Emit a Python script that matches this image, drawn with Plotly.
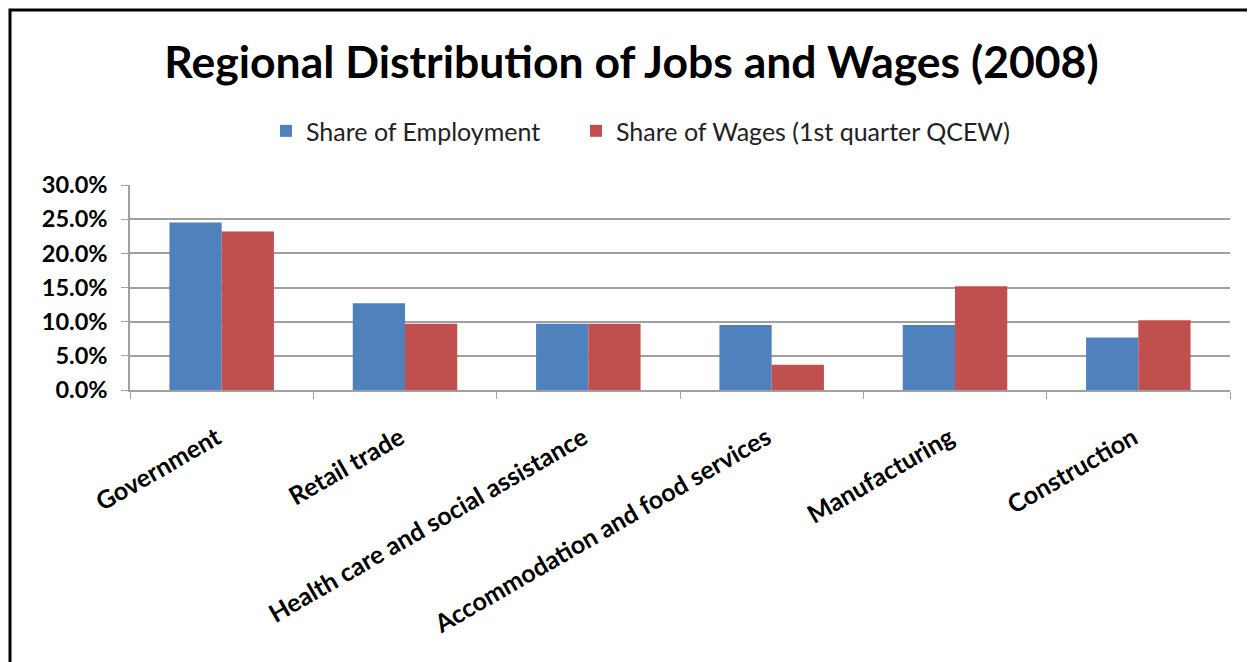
import plotly.graph_objects as go

categories = ["Government", "Retail trade", "Health care and social assistance",
              "Accommodation and food services", "Manufacturing", "Construction"]
share_employment = [0.245, 0.127, 0.097, 0.095, 0.095, 0.077]
share_wages = [0.232, 0.097, 0.097, 0.037, 0.152, 0.102]
series_names = ["Share of Employment", "Share of Wages (1st quarter QCEW)"]
title_text = "Regional Distribution of Jobs and Wages (2008)"

FONT = "Lato"
W, H = 1247, 654  # page body has an 8px margin

fig = go.Figure()
fig.add_trace(go.Bar(x=categories, y=share_employment, name=series_names[0],
                     marker=dict(color="#4F81BD", line=dict(width=0)), legend="legend"))
fig.add_trace(go.Bar(x=categories, y=share_wages, name=series_names[1],
                     marker=dict(color="#C0504D", line=dict(width=0)), legend="legend2"))

legend_common = dict(orientation="h", xanchor="left", y=1.263, yanchor="middle",
                     font=dict(family=FONT, size=25, color="#222"),
                     itemsizing="constant", itemwidth=30, bgcolor="rgba(0,0,0,0)")

fig.update_layout(
    width=W, height=H,
    margin=dict(l=122, r=25, t=177, b=272),
    paper_bgcolor="white", plot_bgcolor="white",
    barmode="group", bargap=0.43, bargroupgap=0,
    title=dict(text="<b>" + title_text + "</b>", x=0.5, xanchor="center",
               y=1 - 54 / H, yanchor="middle",
               font=dict(family=FONT, size=44.5, color="black")),
    legend=dict(x=(258 - 122) / 1100, **legend_common),
    legend2=dict(x=(568 - 122) / 1100, **legend_common),
    showlegend=True,
)
fig.update_yaxes(range=[0, 0.3], dtick=0.05, tickformat=".1%",
                 showgrid=True, gridcolor="#A0A0A0", gridwidth=1.5,
                 showline=True, linecolor="#A0A0A0", linewidth=1.5,
                 ticks="outside", ticklen=7, tickcolor="#A0A0A0",
                 ticklabelstandoff=9,
                 tickprefix="<b>", ticksuffix="</b>",
                 tickfont=dict(family=FONT, size=23.5, color="black"),
                 zeroline=False)
fig.update_xaxes(showline=True, linecolor="#A0A0A0", linewidth=1.5,
                 ticks="outside", ticklen=7, tickcolor="#A0A0A0", tickson="boundaries",
                 tickangle=-30, ticklabelstandoff=22, ticklabelshift=-5,
                 tickfont=dict(family=FONT, size=25, color="black"),
                 tickprefix="<b>", ticksuffix="</b>")

# outer chart frame (cropped at right and bottom in the reference)
fig.add_shape(type="rect", xref="paper", yref="paper",
              x0=(2 - 122) / 1100, x1=1.2, y0=-2.0, y1=(382 - 2) / 205,
              line=dict(color="black", width=3), fillcolor="rgba(0,0,0,0)", layer="above")

fig.write_html("out.html")
